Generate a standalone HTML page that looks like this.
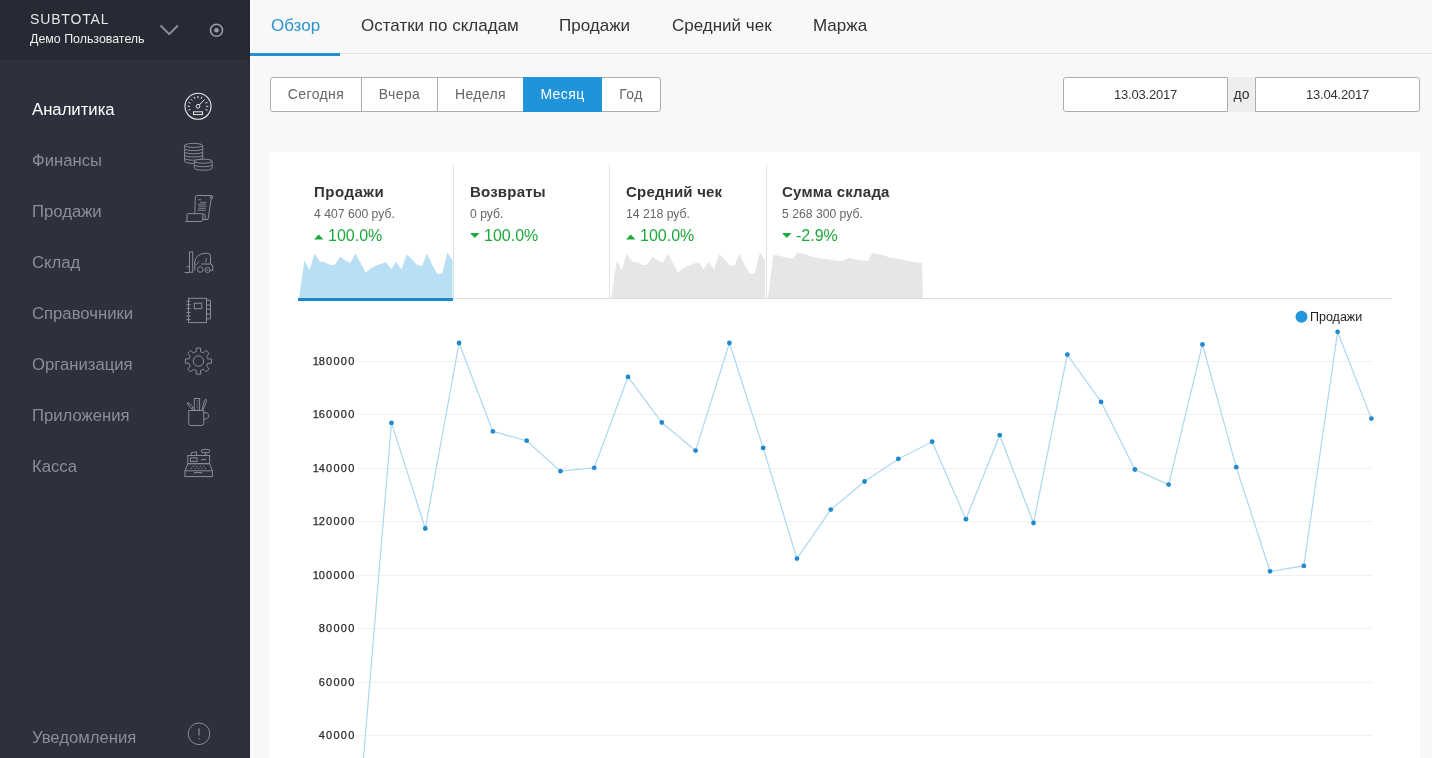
<!DOCTYPE html>
<html><head><meta charset="utf-8">
<style>
*{box-sizing:border-box;margin:0;padding:0}
html,body{width:1432px;height:758px;overflow:hidden}
body>*{will-change:transform}
body{background:#f8f8f8;font-family:"Liberation Sans",sans-serif;position:relative}
.abs{position:absolute}
#side{left:0;top:0;width:250px;height:758px;background:#2d303d}
#shead{left:0;top:0;width:250px;height:60px;background:#272a34}
.brand{left:30px;top:11.4px;line-height:16px;font-size:14px;letter-spacing:0.85px;color:#e6e6e6;white-space:nowrap}
.user{left:30px;top:32px;font-size:12.4px;color:#efefef;white-space:nowrap}
.mi{left:32px;font-size:16.7px;color:#8b8e98;white-space:nowrap;line-height:20px}
.mi.act{color:#fff}
.ic{position:absolute}
#topnav{left:250px;top:0;width:1182px;height:54px;border-bottom:1px solid #e2e2e2}
.tab{position:absolute;top:16px;font-size:17px;color:#333;white-space:nowrap;line-height:20px}
.tab.act{color:#2a93d4}
#uline{left:250px;top:53px;width:90px;height:3px;background:#2590d0}
.btns{left:270px;top:77px;width:391px;height:35px;border:1px solid #adadad;border-radius:3px;background:#fff}
.bt{top:78px;height:33px;line-height:33px;font-size:14px;letter-spacing:0.4px;color:#666;text-align:center;white-space:nowrap}
.bt.on{background:#1f94db;color:#fff}
.date{top:77px;height:35px;width:165px;border:1px solid #adadad;background:#fff;font-size:13px;color:#333;text-align:center;line-height:33px;letter-spacing:-0.2px}
#card{left:270px;top:152px;width:1150px;height:606px;background:#fff}
.kt{position:absolute;top:183px;font-size:15px;font-weight:bold;color:#333;letter-spacing:0.2px;white-space:nowrap;line-height:18px}
.kv{position:absolute;top:207px;font-size:12.2px;color:#666;white-space:nowrap;line-height:14px}
.kp{position:absolute;top:226px;font-size:16px;color:#1ea83c;white-space:nowrap;line-height:19px}
.ylab{position:absolute;left:300px;width:55.5px;text-align:right;font-size:11px;letter-spacing:1.25px;color:#2a2a2a;line-height:12px;-webkit-text-stroke:0.25px #2a2a2a}
</style></head><body>
<div id="side" class="abs"></div>
<div id="shead" class="abs"></div>
<div class="abs" style="left:249px;top:0;width:1px;height:758px;background:#24252f"></div>
<div class="abs" style="left:250px;top:0;width:1px;height:758px;background:#fdfdfd"></div>
<div class="abs brand">SUBTOTAL</div>
<div class="abs user">Демо Пользователь</div>

<div class="abs mi act" style="top:100px">Аналитика</div>
<div class="abs mi" style="top:151px">Финансы</div>
<div class="abs mi" style="top:202px">Продажи</div>
<div class="abs mi" style="top:253px">Склад</div>
<div class="abs mi" style="top:304px">Справочники</div>
<div class="abs mi" style="top:355px">Организация</div>
<div class="abs mi" style="top:406px">Приложения</div>
<div class="abs mi" style="top:457px">Касса</div>
<div class="abs mi" style="top:728px">Уведомления</div>

<svg class="abs" style="left:0;top:0" width="250" height="758" viewBox="0 0 250 758"><path d="M160.5 25.5 L169.2 34.2 L177.9 25.5" fill="none" stroke="#8a8d99" stroke-width="2"/><circle cx="216.5" cy="30.2" r="6" fill="none" stroke="#9a9da7" stroke-width="1.6"/><circle cx="216.5" cy="30.2" r="2.3" fill="#9a9da7"/><circle cx="198" cy="106.3" r="13" fill="none" stroke="#e9e9ec" stroke-width="1.1"/><circle cx="198" cy="106.3" r="1.9" fill="none" stroke="#e9e9ec" stroke-width="1"/><path d="M199.4 104.9 L204.8 99.4" stroke="#e9e9ec" stroke-width="1"/><path d="M189.8 106.3 L187.7 106.3" stroke="#e9e9ec" stroke-width="1"/><path d="M190.42 103.16 L188.48 102.36" stroke="#e9e9ec" stroke-width="1"/><path d="M192.2 100.5 L190.72 99.02" stroke="#e9e9ec" stroke-width="1"/><path d="M194.86 98.72 L194.06 96.78" stroke="#e9e9ec" stroke-width="1"/><path d="M198 98.1 L198 96" stroke="#e9e9ec" stroke-width="1"/><path d="M201.14 98.72 L201.94 96.78" stroke="#e9e9ec" stroke-width="1"/><path d="M205.58 103.16 L207.52 102.36" stroke="#e9e9ec" stroke-width="1"/><path d="M206.2 106.3 L208.3 106.3" stroke="#e9e9ec" stroke-width="1"/><path d="M205.58 109.44 L207.52 110.24" stroke="#e9e9ec" stroke-width="1"/><path d="M190.42 109.44 L188.48 110.24" stroke="#e9e9ec" stroke-width="1"/><rect x="193.5" y="111.8" width="9" height="2.8" fill="none" stroke="#e9e9ec" stroke-width="1"/><ellipse cx="193.65" cy="145.4" rx="9.05" ry="2" fill="none" stroke="#8a8d97" stroke-width="1"/><path d="M184.6 145.4 L184.6 148.6 A9.05 2 0 0 0 202.7 148.6 L202.7 145.4" fill="none" stroke="#8a8d97" stroke-width="1"/><path d="M184.6 148.6 L184.6 151.8 A9.05 2 0 0 0 202.7 151.8 L202.7 148.6" fill="none" stroke="#8a8d97" stroke-width="1"/><path d="M184.6 151.8 L184.6 155 A9.05 2 0 0 0 202.7 155 L202.7 151.8" fill="none" stroke="#8a8d97" stroke-width="1"/><path d="M184.6 155 L184.6 158.2 A9.05 2 0 0 0 202.7 158.2 L202.7 155" fill="none" stroke="#8a8d97" stroke-width="1"/><path d="M184.6 158.2 L184.6 161.4 A9.05 2 0 0 0 202.7 161.4 L202.7 158.2" fill="none" stroke="#8a8d97" stroke-width="1"/><path d="M194.3 161.2 L194.3 168.2 A8.95 2 0 0 0 212.2 168.2 L212.2 161.2 Z" fill="#2d303d"/><ellipse cx="203.25" cy="161.2" rx="8.95" ry="2" fill="#2d303d" stroke="#8a8d97" stroke-width="1"/><path d="M194.3 161.2 L194.3 164.7 A8.95 2 0 0 0 212.2 164.7 L212.2 161.2" fill="none" stroke="#8a8d97" stroke-width="1"/><path d="M194.3 164.7 L194.3 168.2 A8.95 2 0 0 0 212.2 168.2 L212.2 164.7" fill="none" stroke="#8a8d97" stroke-width="1"/><path d="M194.8 213.5 L195.3 197 Q195.3 195.5 196.8 195.5 L211.3 195.5 Q212.6 195.5 212.6 197 Q212.6 198.5 211.2 198.5 L208 219.5 L202.3 219.5" fill="none" stroke="#8a8d97" stroke-width="1"/><circle cx="211.2" cy="197.2" r="1.2" fill="none" stroke="#8a8d97" stroke-width="1"/><path d="M185.5 221.5 L201.7 221.5 L202.8 220 L202.8 214.8 Q202.8 213.6 201.5 213.6 L188.3 213.6 Q187 213.6 187 214.8 L187 221" fill="none" stroke="#8a8d97" stroke-width="1"/><path d="M202.8 214 L204.3 214 Q205.2 214 205.2 215 L205.2 219.2" fill="none" stroke="#8a8d97" stroke-width="1"/><path d="M198 199.8 L201 199.8" stroke="#8a8d97" stroke-width="0.9"/><path d="M200 202.3 L206.6 202.3" stroke="#8a8d97" stroke-width="0.9"/><path d="M198.2 204.2 L205.8 204.2" stroke="#8a8d97" stroke-width="0.9"/><path d="M198.2 206.2 L206.6 206.2" stroke="#8a8d97" stroke-width="0.9"/><path d="M198.2 208.3 L205.6 208.3" stroke="#8a8d97" stroke-width="0.9"/><path d="M197.5 210.3 L205.8 210.3" stroke="#8a8d97" stroke-width="0.9"/><rect x="189.5" y="252" width="3.2" height="20.2" fill="none" stroke="#8a8d97" stroke-width="1"/><path d="M184.7 272.5 L189.5 272.5 M186.6 266.8 L189.5 266.8" fill="none" stroke="#8a8d97" stroke-width="1"/><path d="M194.8 270.5 L194.8 262 Q195.5 255 203.8 253.3 L208 253.3 Q210.5 253.5 210.5 256.5 L210.5 264 Q212.8 264.5 212.8 267 L212.8 270.6 L210.2 270.6" fill="none" stroke="#8a8d97" stroke-width="1"/><path d="M195.3 265.5 L199.3 261.5 M205.5 262.3 L206.6 258.3 M201 264 L210.5 264" fill="none" stroke="#8a8d97" stroke-width="1"/><circle cx="200.3" cy="269.5" r="2.8" fill="none" stroke="#8a8d97" stroke-width="1"/><circle cx="207.5" cy="270" r="2.5" fill="none" stroke="#8a8d97" stroke-width="1"/><circle cx="207.5" cy="270" r="0.8" fill="#8a8d97"/><rect x="188.5" y="298.3" width="18" height="24.3" fill="none" stroke="#8a8d97" stroke-width="1"/><rect x="194.3" y="303.2" width="7.5" height="5.5" fill="none" stroke="#8a8d97" stroke-width="1"/><path d="M206.5 300.2 L210.5 300.2 L210.5 318.8 L206.5 318.8 M206.5 305 L210.5 305 M206.5 309.2 L210.5 309.2 M206.5 314 L210.5 314" fill="none" stroke="#8a8d97" stroke-width="1"/><path d="M186.4 301.2 L190.6 301.2" stroke="#8a8d97" stroke-width="1"/><path d="M186.4 304.7 L190.6 304.7" stroke="#8a8d97" stroke-width="1"/><path d="M186.4 308.4 L190.6 308.4" stroke="#8a8d97" stroke-width="1"/><path d="M186.4 312.5 L190.6 312.5" stroke="#8a8d97" stroke-width="1"/><path d="M186.4 316 L190.6 316" stroke="#8a8d97" stroke-width="1"/><path d="M186.4 319.6 L190.6 319.6" stroke="#8a8d97" stroke-width="1"/><path d="M194.73 352.23 L196.24 351.75 L196.22 348.08 L200.58 348.08 L200.56 351.75 L202.07 352.23 L203.49 352.96 L206.07 350.35 L209.15 353.43 L206.54 356.01 L207.27 357.43 L207.75 358.94 L211.42 358.92 L211.42 363.28 L207.75 363.26 L207.27 364.77 L206.54 366.19 L209.15 368.77 L206.07 371.85 L203.49 369.24 L202.07 369.97 L200.56 370.45 L200.58 374.12 L196.22 374.12 L196.24 370.45 L194.73 369.97 L193.31 369.24 L190.73 371.85 L187.65 368.77 L190.26 366.19 L189.53 364.77 L189.05 363.26 L185.38 363.28 L185.38 358.92 L189.05 358.94 L189.53 357.43 L190.26 356.01 L187.65 353.43 L190.73 350.35 L193.31 352.96Z" fill="none" stroke="#8a8d97" stroke-width="1" stroke-linejoin="round"/><circle cx="198.4" cy="361.1" r="5.2" fill="none" stroke="#8a8d97" stroke-width="1"/><path d="M188.8 410.5 L188.8 423.5 Q188.8 425.5 190.8 425.5 L201.8 425.5 Q203.8 425.5 203.8 423.5 L203.8 410.5 Z" fill="none" stroke="#8a8d97" stroke-width="1"/><path d="M203.8 412.7 Q208.8 412.3 208.6 415.8 Q208.4 419.3 203.8 419.3" fill="none" stroke="#8a8d97" stroke-width="1"/><rect x="194.3" y="398.5" width="5.3" height="11.8" fill="none" stroke="#8a8d97" stroke-width="1"/><path d="M196.8 401 L198.3 401 M196.8 403.3 L198.3 403.3 M196.8 405.6 L198.3 405.6 M196.8 407.8 L198.3 407.8" stroke="#8a8d97" stroke-width="0.8"/><path d="M192.6 409.8 Q188.2 406.5 187.3 402.6 Q190.8 403.6 192.2 406.5 L193.2 409.8" fill="none" stroke="#8a8d97" stroke-width="1" stroke-linejoin="round"/><path d="M202.2 409.8 L203.2 405.2 Q203.8 400.6 205.8 398.9 Q207.3 401.8 204.8 405.6 L202.9 409.8" fill="none" stroke="#8a8d97" stroke-width="1" stroke-linejoin="round"/><rect x="185" y="470.8" width="27.4" height="5.8" fill="none" stroke="#8a8d97" stroke-width="1"/><path d="M194.4 473.8 L194.4 472.6 L201.6 472.6 L201.6 473.8" fill="none" stroke="#8a8d97" stroke-width="1"/><path d="M185 470.8 L187.8 463.7 L209.6 463.7 L212.4 470.8" fill="none" stroke="#8a8d97" stroke-width="1"/><rect x="187.8" y="455.5" width="21.8" height="8.2" fill="none" stroke="#8a8d97" stroke-width="1"/><rect x="190.4" y="457.9" width="6.6" height="3.5" fill="none" stroke="#8a8d97" stroke-width="1"/><path d="M201 459.6 L206.1 459.6" stroke="#8a8d97" stroke-width="1"/><path d="M191.4 455.5 L191.4 452.8 L196.4 451.8 L196.4 455.5" fill="none" stroke="#8a8d97" stroke-width="1"/><rect x="201.5" y="449.4" width="8.2" height="3.3" rx="1.5" fill="none" stroke="#8a8d97" stroke-width="1"/><path d="M205.6 452.7 L205.6 455.5" fill="none" stroke="#8a8d97" stroke-width="1"/><rect x="192.70000000000002" y="465.9" width="1.2" height="1" fill="#8a8d97"/><rect x="196.0" y="465.9" width="1.2" height="1" fill="#8a8d97"/><rect x="199.6" y="465.9" width="1.2" height="1" fill="#8a8d97"/><rect x="202.9" y="465.9" width="1.2" height="1" fill="#8a8d97"/><rect x="190.8" y="467.8" width="1.2" height="1" fill="#8a8d97"/><rect x="194.4" y="467.8" width="1.2" height="1" fill="#8a8d97"/><rect x="197.9" y="467.8" width="1.2" height="1" fill="#8a8d97"/><rect x="201.20000000000002" y="467.8" width="1.2" height="1" fill="#8a8d97"/><rect x="204.8" y="467.8" width="1.2" height="1" fill="#8a8d97"/><circle cx="199" cy="733.8" r="10.8" fill="none" stroke="#8a8d97" stroke-width="1"/><path d="M199 728.3 L199 735.5" stroke="#8a8d97" stroke-width="1.2"/><rect x="198.4" y="738" width="1.2" height="1.2" fill="#8a8d97"/></svg>
<div id="topnav" class="abs">
</div>
<div class="tab act" style="left:271px">Обзор</div>
<div class="tab" style="left:361px">Остатки по складам</div>
<div class="tab" style="left:559px">Продажи</div>
<div class="tab" style="left:672px">Средний чек</div>
<div class="tab" style="left:813px">Маржа</div>
<div id="uline" class="abs"></div>

<div class="abs btns"></div>
<div class="abs bt" style="left:271px;width:90px">Сегодня</div>
<div class="abs bt" style="left:362px;width:75px">Вчера</div>
<div class="abs bt" style="left:438px;width:85px">Неделя</div>
<div class="abs bt on" style="left:523px;width:79px;top:77px;height:35px;line-height:35px">Месяц</div>
<div class="abs bt" style="left:602px;width:58px">Год</div>
<div class="abs" style="left:361px;top:78px;width:1px;height:33px;background:#adadad"></div>
<div class="abs" style="left:437px;top:78px;width:1px;height:33px;background:#adadad"></div>


<div class="abs date" style="left:1063px;border-radius:3px 0 0 3px">13.03.2017</div>
<div class="abs" style="left:1228px;top:77px;width:27px;height:35px;background:#eee;font-size:14px;color:#333;line-height:35px;text-align:center">до</div>
<div class="abs date" style="left:1255px;border-radius:0 3px 3px 0">13.04.2017</div>

<div id="card" class="abs"></div>
<div class="kt" style="left:314px;letter-spacing:0.5px">Продажи</div>
<div class="kv" style="left:314px">4 407 600 руб.</div>
<div class="kp" style="left:328px">100.0%</div>
<div class="kt" style="left:470px">Возвраты</div>
<div class="kv" style="left:470px">0 руб.</div>
<div class="kp" style="left:484px">100.0%</div>
<div class="kt" style="left:626px">Средний чек</div>
<div class="kv" style="left:626px">14 218 руб.</div>
<div class="kp" style="left:640px">100.0%</div>
<div class="kt" style="left:782px">Сумма склада</div>
<div class="kv" style="left:782px">5 268 300 руб.</div>
<div class="kp" style="left:796px">-2.9%</div>
<svg class="abs" style="left:0;top:0" width="1432" height="758" viewBox="0 0 1432 758"><path d="M299.3 298 L299.3 296.63 L304.41 260.62 L309.51 270.03 L314.62 253.5 L319.73 261.38 L324.83 262.2 L329.94 264.92 L335.05 264.62 L340.15 256.52 L345.26 260.58 L350.37 263.09 L355.47 253.5 L360.58 262.85 L365.69 272.71 L370.79 268.34 L375.9 265.84 L381.01 263.83 L386.11 262.29 L391.22 269.2 L396.33 261.71 L401.43 269.54 L406.54 254.53 L411.65 258.75 L416.75 264.77 L421.86 266.12 L426.97 253.62 L432.07 264.57 L437.18 273.84 L442.29 273.36 L447.39 252.5 L452.5 260.23 L452.5 298Z" fill="#b9dff4"/><path d="M611.5 298 L611.5 296.63 L616.62 260.62 L621.73 270.03 L626.85 253.5 L631.97 261.38 L637.08 262.2 L642.2 264.92 L647.32 264.62 L652.43 256.52 L657.55 260.58 L662.67 263.09 L667.78 253.5 L672.9 262.85 L678.02 272.71 L683.13 268.34 L688.25 265.84 L693.37 263.83 L698.48 262.29 L703.6 269.2 L708.72 261.71 L713.83 269.54 L718.95 254.53 L724.07 258.75 L729.18 264.77 L734.3 266.12 L739.42 253.62 L744.53 264.57 L749.65 273.84 L754.77 273.36 L759.88 252.5 L765 260.23 L765 298Z" fill="#e6e6e6"/><path d="M767.9 298.5 L773.3 254.4 L789 258 L792.5 258.8 L797.3 252.6 L803.4 253.7 L815 257.6 L840 261.3 L844.4 260.6 L848 257.7 L859.6 260.2 L868 261 L872.3 253 L880.6 254.4 L889.3 257.3 L900.2 259.2 L909 261.3 L922.2 263.1 L922.7 298.5Z" fill="#e6e6e6"/><rect x="298" y="298" width="1094" height="1" fill="#dcdcdc"/><rect x="298" y="298" width="155" height="3" fill="#1e88c9"/><rect x="453" y="165" width="1" height="133" fill="#e3e3e3"/><rect x="609" y="165" width="1" height="133" fill="#e3e3e3"/><rect x="766" y="165" width="1" height="133" fill="#e3e3e3"/><path d="M314 239.5 L323.5 239.5 L318.75 234.5Z" fill="#1ea83c"/><path d="M470 233 L479.5 233 L474.75 238Z" fill="#1ea83c"/><path d="M626 239.5 L635.5 239.5 L630.75 234.5Z" fill="#1ea83c"/><path d="M782 233 L791.5 233 L786.75 238Z" fill="#1ea83c"/><rect x="358" y="361" width="1015" height="1" fill="#f1f1f1"/><rect x="358" y="414" width="1015" height="1" fill="#f1f1f1"/><rect x="358" y="468" width="1015" height="1" fill="#f1f1f1"/><rect x="358" y="521" width="1015" height="1" fill="#f1f1f1"/><rect x="358" y="575" width="1015" height="1" fill="#f1f1f1"/><rect x="358" y="628" width="1015" height="1" fill="#f1f1f1"/><rect x="358" y="682" width="1015" height="1" fill="#f1f1f1"/><rect x="358" y="735" width="1015" height="1" fill="#f1f1f1"/><path d="M357.7 827 L391.49 422.9 L425.28 528.5 L459.07 343 L492.86 431.4 L526.65 440.7 L560.44 471.2 L594.23 467.8 L628.02 376.9 L661.81 422.5 L695.6 450.6 L729.39 343 L763.18 447.9 L796.97 558.6 L830.76 509.6 L864.55 481.5 L898.34 458.9 L932.13 441.7 L965.92 519.2 L999.71 435.2 L1033.5 523 L1067.29 354.6 L1101.08 401.9 L1134.87 469.5 L1168.66 484.6 L1202.45 344.4 L1236.24 467.2 L1270.03 571.3 L1303.82 565.9 L1337.61 331.8 L1371.4 418.6" fill="none" stroke="#acd7f0" stroke-width="1.2"/><circle cx="391.49" cy="422.9" r="2.4" fill="#2489cc"/><circle cx="425.28" cy="528.5" r="2.4" fill="#2489cc"/><circle cx="459.07" cy="343" r="2.4" fill="#2489cc"/><circle cx="492.86" cy="431.4" r="2.4" fill="#2489cc"/><circle cx="526.65" cy="440.7" r="2.4" fill="#2489cc"/><circle cx="560.44" cy="471.2" r="2.4" fill="#2489cc"/><circle cx="594.23" cy="467.8" r="2.4" fill="#2489cc"/><circle cx="628.02" cy="376.9" r="2.4" fill="#2489cc"/><circle cx="661.81" cy="422.5" r="2.4" fill="#2489cc"/><circle cx="695.6" cy="450.6" r="2.4" fill="#2489cc"/><circle cx="729.39" cy="343" r="2.4" fill="#2489cc"/><circle cx="763.18" cy="447.9" r="2.4" fill="#2489cc"/><circle cx="796.97" cy="558.6" r="2.4" fill="#2489cc"/><circle cx="830.76" cy="509.6" r="2.4" fill="#2489cc"/><circle cx="864.55" cy="481.5" r="2.4" fill="#2489cc"/><circle cx="898.34" cy="458.9" r="2.4" fill="#2489cc"/><circle cx="932.13" cy="441.7" r="2.4" fill="#2489cc"/><circle cx="965.92" cy="519.2" r="2.4" fill="#2489cc"/><circle cx="999.71" cy="435.2" r="2.4" fill="#2489cc"/><circle cx="1033.5" cy="523" r="2.4" fill="#2489cc"/><circle cx="1067.29" cy="354.6" r="2.4" fill="#2489cc"/><circle cx="1101.08" cy="401.9" r="2.4" fill="#2489cc"/><circle cx="1134.87" cy="469.5" r="2.4" fill="#2489cc"/><circle cx="1168.66" cy="484.6" r="2.4" fill="#2489cc"/><circle cx="1202.45" cy="344.4" r="2.4" fill="#2489cc"/><circle cx="1236.24" cy="467.2" r="2.4" fill="#2489cc"/><circle cx="1270.03" cy="571.3" r="2.4" fill="#2489cc"/><circle cx="1303.82" cy="565.9" r="2.4" fill="#2489cc"/><circle cx="1337.61" cy="331.8" r="2.4" fill="#2489cc"/><circle cx="1371.4" cy="418.6" r="2.4" fill="#2489cc"/><circle cx="1301.5" cy="316.8" r="6" fill="#2395db"/></svg>
<div class="ylab" style="top:355.03px"><span style="letter-spacing:-0.3px">1</span>80000</div>
<div class="ylab" style="top:408.46px"><span style="letter-spacing:-0.3px">1</span>60000</div>
<div class="ylab" style="top:461.89px"><span style="letter-spacing:-0.3px">1</span>40000</div>
<div class="ylab" style="top:515.32px"><span style="letter-spacing:-0.3px">1</span>20000</div>
<div class="ylab" style="top:568.75px"><span style="letter-spacing:-0.3px">1</span>00000</div>
<div class="ylab" style="top:622.18px">80000</div>
<div class="ylab" style="top:675.61px">60000</div>
<div class="ylab" style="top:729.04px">40000</div>
<div class="abs" style="left:1310px;top:310px;font-size:12.5px;color:#222;line-height:14px">Продажи</div>

</body></html>
